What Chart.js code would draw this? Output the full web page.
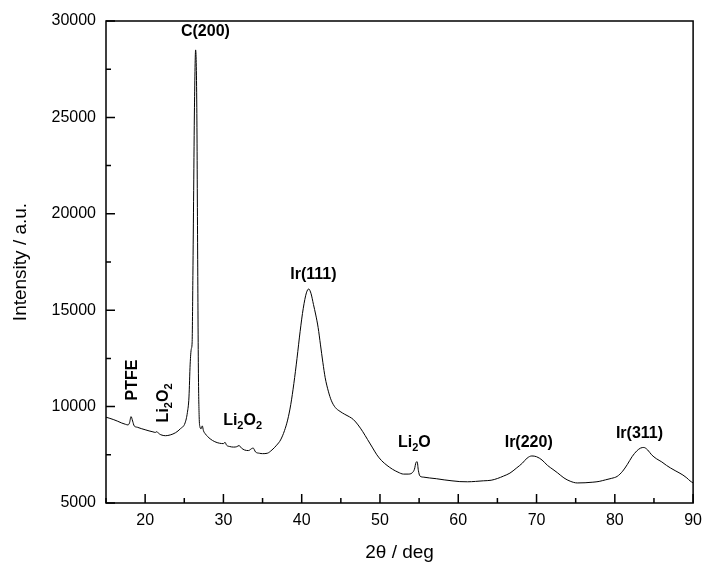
<!DOCTYPE html>
<html>
<head>
<meta charset="utf-8">
<script src="https://cdn.jsdelivr.net/npm/chart.js@4.4.1/dist/chart.umd.min.js"></script>
<style>
  html, body { margin: 0; padding: 0; background: #fff; }
  #wrap { width: 710px; height: 567px; }
</style>
</head>
<body>
<div id="wrap"><canvas id="xrd"></canvas></div>
<script>
// XRD pattern of the discharged electrode
const twoTheta = [
  15.0, 15.5, 16.0, 16.5, 17.0, 17.5, 17.8, 18.0, 18.2, 18.4, 18.6, 19.0, 19.5, 20.0, 20.5,
  21.0, 21.3, 21.5, 21.7, 22.0, 22.6, 23.2, 23.9, 24.5, 25.1, 25.4, 25.6, 25.75, 25.9, 26.0,
  26.1, 26.2, 26.3, 26.45, 26.6, 26.7, 26.8, 26.9, 27.0, 27.15, 27.3, 27.45, 27.7, 28.3, 28.9,
  29.5, 30.0, 30.2, 30.4, 30.8, 31.3, 31.7, 32.0, 32.3, 32.7, 33.2, 33.6, 33.8, 34.1, 34.6,
  35.0, 35.6, 36.2, 36.8, 37.3, 37.8, 38.2, 38.6, 39.0, 39.4, 39.8, 40.2, 40.6, 40.9, 41.2,
  41.5, 41.8, 42.1, 42.4, 42.7, 43.0, 43.4, 43.8, 44.3, 44.9, 45.5, 46.1, 46.6, 47.2, 47.8,
  48.4, 49.0, 49.6, 50.2, 50.9, 51.6, 52.3, 53.0, 53.6, 54.1, 54.4, 54.6, 54.75, 54.9, 55.1,
  55.6, 56.3, 57.2, 58.2, 59.2, 60.2, 61.2, 62.2, 63.2, 64.2, 65.0, 65.8, 66.6, 67.4, 68.2,
  68.8, 69.4, 70.0, 70.7, 71.4, 72.1, 72.7, 73.5, 74.3, 75.2, 76.2, 77.2, 78.0, 78.8, 79.6,
  80.3, 81.0, 81.6, 82.2, 82.8, 83.3, 83.7, 84.2, 84.7, 85.3, 86.0, 86.6, 87.1, 87.7, 88.2,
  88.7, 89.2, 89.6, 90.0
];
const intensity = [
  9450, 9390, 9320, 9240, 9150, 9080, 9050, 9150, 9480, 9250, 9000, 8930, 8860, 8800, 8740,
  8690, 8660, 8700, 8620, 8540, 8490, 8530, 8650, 8850, 9150, 9700, 10500, 12200, 13000, 13300,
  16800, 21200, 25500, 28500, 25500, 18500, 12000, 9500, 8950, 8850, 9000, 8750, 8580, 8330, 8180,
  8100, 8080, 8150, 8000, 7930, 7900, 7920, 7980, 7850, 7750, 7720, 7820, 7850, 7650, 7580,
  7560, 7580, 7750, 8000, 8270, 8750, 9300, 10100, 11200, 12500, 13900, 15100, 15900, 16100, 15850,
  15300, 14750, 14100, 13200, 12300, 11500, 10800, 10300, 9950, 9750, 9600, 9470, 9330, 9050, 8700,
  8300, 7900, 7500, 7200, 6950, 6750, 6600, 6500, 6500, 6560, 6750, 7100, 7140, 6700, 6400,
  6340, 6300, 6260, 6200, 6150, 6110, 6100, 6120, 6150, 6180, 6270, 6400, 6550, 6800, 7070,
  7330, 7440, 7400, 7230, 6950, 6740, 6560, 6300, 6130, 6040, 6050, 6080, 6120, 6200, 6280,
  6380, 6650, 7000, 7400, 7700, 7850, 7880, 7750, 7500, 7300, 7130, 6950, 6820, 6680, 6570,
  6450, 6300, 6150, 6040
];

const xTickLabels = [20, 30, 40, 50, 60, 70, 80, 90];
const yTickLabels = [5000, 10000, 15000, 20000, 25000, 30000];

// reflection labels: text pieces ([string, isSubscript]), anchor in 2θ / intensity, rotation
const peakLabels = [
  { parts: [['PTFE', 0]], at: [18.45, 11380], rot: true },
  { parts: [['Li', 0], ['2', 1], ['O', 0], ['2', 1]], at: [22.4, 10190], rot: true },
  { parts: [['C(200)', 0]], at: [27.7, 29430] },
  { parts: [['Li', 0], ['2', 1], ['O', 0], ['2', 1]], at: [32.45, 9250] },
  { parts: [['Ir(111)', 0]], at: [41.5, 16830] },
  { parts: [['Li', 0], ['2', 1], ['O', 0]], at: [54.4, 8110] },
  { parts: [['Ir(220)', 0]], at: [69.0, 8110] },
  { parts: [['Ir(311)', 0]], at: [83.15, 8580] }
];

const FONT = "'Liberation Sans', Arial, sans-serif";

const framePlugin = {
  id: 'frame',
  afterDraw(chart) {
    const { ctx, chartArea: a, scales: { x, y } } = chart;
    ctx.save();
    ctx.strokeStyle = '#000';
    ctx.lineWidth = 1.5;
    ctx.strokeRect(a.left, a.top, a.right - a.left, a.bottom - a.top);
    ctx.beginPath();
    x.ticks.forEach(t => {
      const px = x.getPixelForValue(t.value);
      const len = xTickLabels.includes(t.value) ? 9 : 5;
      ctx.moveTo(px, a.bottom);
      ctx.lineTo(px, a.bottom - len);
    });
    y.ticks.forEach(t => {
      const py = y.getPixelForValue(t.value);
      const len = yTickLabels.includes(t.value) ? 9 : 5;
      ctx.moveTo(a.left, py);
      ctx.lineTo(a.left + len, py);
    });
    ctx.stroke();

    // peak labels
    ctx.fillStyle = '#000';
    ctx.textBaseline = 'middle';
    ctx.textAlign = 'left';
    peakLabels.forEach(lb => {
      const cx = x.getPixelForValue(lb.at[0]);
      const cy = y.getPixelForValue(lb.at[1]);
      let w = 0;
      lb.parts.forEach(([s, sub]) => {
        ctx.font = 'bold ' + (sub ? 11 : 16) + 'px ' + FONT;
        w += ctx.measureText(s).width;
      });
      ctx.save();
      ctx.translate(cx, cy);
      if (lb.rot) ctx.rotate(-Math.PI / 2);
      let px = -w / 2;
      lb.parts.forEach(([s, sub]) => {
        ctx.font = 'bold ' + (sub ? 11 : 16) + 'px ' + FONT;
        ctx.fillText(s, px, sub ? 5 : 0);
        px += ctx.measureText(s).width;
      });
      ctx.restore();
    });
    ctx.restore();
  }
};

new Chart(document.getElementById('xrd'), {
  type: 'line',
  data: {
    datasets: [{
      data: twoTheta.map((t, i) => ({ x: t, y: intensity[i] })),
      borderColor: '#000',
      borderWidth: 1,
      pointRadius: 0,
      cubicInterpolationMode: 'monotone',
      fill: false
    }]
  },
  options: {
    responsive: true,
    maintainAspectRatio: false,
    animation: false,
    layout: { padding: { top: 21, right: 7, left: 0, bottom: 0 } },
    plugins: { legend: { display: false }, tooltip: { enabled: false } },
    scales: {
      x: {
        type: 'linear',
        min: 15,
        max: 90,
        grid: { display: false, drawTicks: false },
        border: { display: false },
        ticks: {
          stepSize: 5,
          autoSkip: false,
          maxRotation: 0,
          padding: 8,
          color: '#000',
          font: { family: FONT, size: 16 },
          callback: v => (xTickLabels.includes(v) ? String(v) : '')
        },
        title: {
          display: true,
          text: '2θ / deg',
          color: '#000',
          font: { family: FONT, size: 19 },
          padding: { top: 0, bottom: 3 }
        },
        afterFit: s => { s.height = 64; }
      },
      y: {
        min: 5000,
        max: 30000,
        grid: { display: false, drawTicks: false },
        border: { display: false },
        ticks: {
          stepSize: 2500,
          autoSkip: false,
          padding: 10,
          color: '#000',
          font: { family: FONT, size: 16 },
          callback: v => (yTickLabels.includes(v) ? String(v) : '')
        },
        title: {
          display: true,
          text: 'Intensity / a.u.',
          color: '#000',
          font: { family: FONT, size: 19 },
          padding: { top: 9, bottom: 0 }
        },
        afterFit: s => { s.width = 106; }
      }
    }
  },
  plugins: [framePlugin]
});
</script>
</body>
</html>
